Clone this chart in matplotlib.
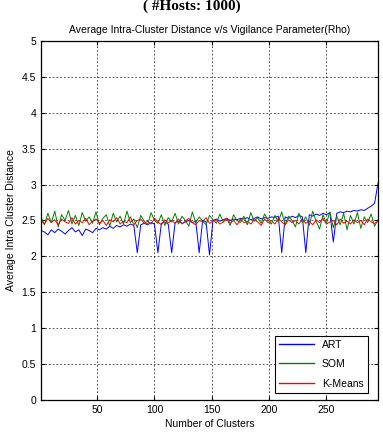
import numpy as np
import matplotlib
matplotlib.use("Agg")
import matplotlib.pyplot as plt

plt.rcParams['font.family'] = ['Liberation Sans', 'DejaVu Sans']

# number of clusters (sampled every 3)
clusters = np.arange(1, 296, 3)

art = [2.36, 2.34, 2.30, 2.37, 2.33, 2.38, 2.35, 2.31, 2.36, 2.40,
       2.34, 2.37, 2.29, 2.38, 2.36, 2.33, 2.39, 2.37, 2.40, 2.38,
       2.42, 2.39, 2.43, 2.41, 2.44, 2.42, 2.45, 2.43, 2.05, 2.44,
       2.46, 2.44, 2.47, 2.45, 2.05, 2.46, 2.48, 2.45, 2.05, 2.47,
       2.49, 2.46, 2.48, 2.50, 2.47, 2.49, 2.05, 2.50, 2.48, 2.02,
       2.50, 2.52, 2.49, 2.51, 2.53, 2.50, 2.52, 2.51, 2.53, 2.52,
       2.54, 2.51, 2.53, 2.55, 2.52, 2.54, 2.53, 2.55, 2.54, 2.56,
       2.05, 2.55, 2.53, 2.56, 2.54, 2.57, 2.55, 2.05, 2.58, 2.56,
       2.59, 2.57, 2.60, 2.58, 2.61, 2.20, 2.60, 2.62, 2.61, 2.63,
       2.62, 2.64, 2.63, 2.65, 2.64, 2.67, 2.70, 2.74, 3.02]

som = [2.55, 2.44, 2.60, 2.47, 2.63, 2.41, 2.58, 2.50, 2.64, 2.45,
       2.57, 2.43, 2.61, 2.49, 2.55, 2.46, 2.62, 2.44, 2.53, 2.58,
       2.42, 2.60, 2.48, 2.56, 2.45, 2.63, 2.47, 2.52, 2.40, 2.57,
       2.49, 2.44, 2.61, 2.50, 2.46, 2.58, 2.43, 2.54, 2.48, 2.60,
       2.45, 2.56, 2.50, 2.42, 2.62, 2.47, 2.55, 2.49, 2.44, 2.57,
       2.51, 2.46, 2.59, 2.48, 2.53, 2.43, 2.58, 2.50, 2.47, 2.56,
       2.44, 2.61, 2.49, 2.54, 2.46, 2.59, 2.51, 2.45, 2.57, 2.48,
       2.62, 2.44, 2.56, 2.50, 2.41, 2.60, 2.47, 2.55, 2.43, 2.63,
       2.49, 2.38, 2.58, 2.46, 2.62, 2.40, 2.56, 2.44, 2.60, 2.37,
       2.57, 2.45, 2.61, 2.39, 2.55, 2.47, 2.59, 2.42, 2.51]

kmeans = [2.50, 2.45, 2.53, 2.47, 2.51, 2.44, 2.52, 2.48, 2.46, 2.54,
          2.45, 2.50, 2.47, 2.53, 2.44, 2.49, 2.52, 2.46, 2.50, 2.43,
          2.51, 2.48, 2.54, 2.45, 2.49, 2.47, 2.55, 2.44, 2.50, 2.52,
          2.46, 2.49, 2.45, 2.53, 2.48, 2.44, 2.51, 2.47, 2.50, 2.46,
          2.52, 2.45, 2.49, 2.53, 2.47, 2.44, 2.50, 2.48, 2.54, 2.46,
          2.49, 2.51, 2.45, 2.48, 2.53, 2.46, 2.50, 2.44, 2.52, 2.47,
          2.49, 2.45, 2.51, 2.48, 2.43, 2.52, 2.47, 2.50, 2.45, 2.53,
          2.48, 2.44, 2.51, 2.47, 2.50, 2.45, 2.52, 2.46, 2.49, 2.44,
          2.51, 2.47, 2.53, 2.45, 2.48, 2.50, 2.44, 2.52, 2.46, 2.49,
          2.45, 2.51, 2.47, 2.50, 2.44, 2.52, 2.48, 2.46, 2.49]

xticks = [50, 100, 150, 200, 250]
yticks = [0, 0.5, 1, 1.5, 2, 2.5, 3, 3.5, 4, 4.5, 5]
ytick_labels = ['0', '0.5', '1', '1.5', '2', '2.5', '3', '3.5', '4', '4.5', '5']

fig = plt.figure(figsize=(3.83, 4.37), dpi=100)
ax = fig.add_axes([0.107, 0.085, 0.880, 0.821])

ax.plot(clusters, art, color='#0000ff', lw=0.7, label='ART')
ax.plot(clusters, som, color='#008000', lw=0.7, label='SOM')
ax.plot(clusters, kmeans, color='#ff0000', lw=0.7, label='K-Means')

ax.set_xlim(1, 295)
ax.set_ylim(0, 5)
ax.set_xticks(xticks)
ax.set_yticks(yticks)
ax.set_yticklabels(ytick_labels)
ax.tick_params(direction='in', labelsize=7.5, length=3, top=True, right=True)
ax.grid(True, color='black', linestyle=(0, (2, 2.5)), linewidth=0.6, alpha=0.8)
for s in ax.spines.values():
    s.set_linewidth(0.9)

ax.set_title('Average Intra-Cluster Distance v/s Vigilance Parameter(Rho)',
             fontsize=7.5, pad=6)
ax.set_xlabel('Number of Clusters', fontsize=7.5, labelpad=3)
ax.set_ylabel('Average Intra Cluster Distance', fontsize=7.5, labelpad=4)

leg = ax.legend(loc='lower right', bbox_to_anchor=(0.97, 0.02),
                borderaxespad=0, fontsize=7.5, fancybox=False,
                edgecolor='black', framealpha=1, handlelength=3.3,
                labelspacing=0.9)
leg.get_frame().set_linewidth(0.8)
for h in leg.get_lines():
    h.set_linewidth(1.0)

fig.text(0.5, 1.0, '( #Hosts: 1000)', ha='center', va='top',
         fontsize=11, fontweight='bold', family='Liberation Serif')

fig.savefig('out.png', dpi=100)
